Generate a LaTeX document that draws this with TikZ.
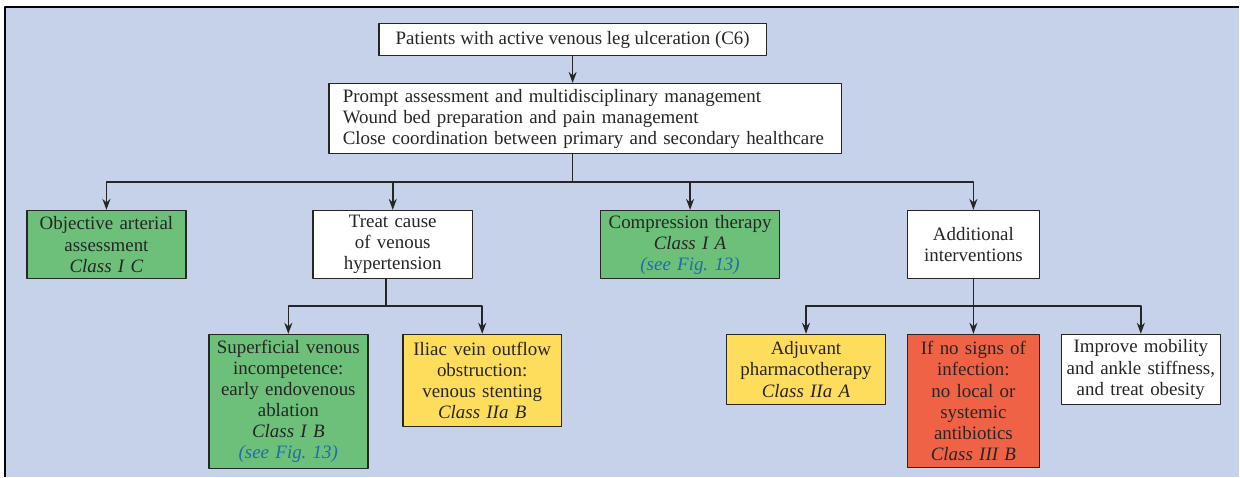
\documentclass[tikz,border=0pt]{standalone}
\usepackage{fontspec}
\setmainfont{Liberation Serif}
\usetikzlibrary{arrows.meta}
\definecolor{bgblue}{RGB}{198,210,234}
\definecolor{boxgreen}{RGB}{108,192,122}
\definecolor{boxyellow}{RGB}{255,221,92}
\definecolor{boxred}{RGB}{239,98,70}
\definecolor{figblue}{RGB}{31,108,172}
\newcommand{\cls}[1]{\textit{#1}}
\newcommand{\seefig}{\textcolor{figblue}{\textit{(see Fig.~13)}}}
\begin{document}
\begin{tikzpicture}[x=1bp, y=-1bp, line join=round, >={Stealth[length=11bp,width=8bp]},
	font=\fontsize{19}{21.2}\selectfont,
	box/.style={draw=black!85, line width=1.5bp, fill=white, align=center, inner xsep=3bp, inner ysep=4bp, anchor=north, text=black!85},
	lvl1/.style={box, minimum height=68bp},
	conn/.style={line width=1.5bp, draw=black!85}]
	\fill[bgblue](5,7)rectangle(1240,477);
	\draw[line width=1.5bp](5,477)--(5,7)--(1240,7);
	\useasboundingbox(0,0)rectangle(1240,477);
	% top of the chart
	\node[box, minimum width=388bp, minimum height=32bp](patients) at (573,23){Patients with active venous leg ulceration (C6)};
	\node[box, align=left, text width=485bp, inner xsep=14bp, minimum height=70bp](mgmt) at (585.5,83){Prompt assessment and multidisciplinary management\\Wound bed preparation and pain management\\Close coordination between primary and secondary healthcare};
	% first row
	\node[lvl1, fill=boxgreen, text width=153bp](arterial) at (106.5,210){Objective arterial\\assessment\\\cls{Class I C}};
	\node[lvl1, text width=154bp](cause) at (393,210){Treat cause\\of venous\\hypertension};
	\node[lvl1, fill=boxgreen, text width=173bp](compress) at (690.5,210){Compression therapy\\\cls{Class I A}\\\seefig};
	\node[lvl1, text width=126bp](addit) at (974,210){Additional\\interventions};
	% second row
	\node[box, fill=boxgreen, text width=153bp, minimum height=134bp](superf) at (288.5,334){Superficial venous\\incompetence:\\early endovenous\\ablation\\\cls{Class I B}\\\seefig};
	\node[box, fill=boxyellow, text width=153bp, minimum height=92bp](iliac) at (482.5,334){Iliac vein outflow\\obstruction:\\venous stenting\\\cls{Class IIa B}};
	\node[box, fill=boxyellow, text width=153bp, minimum height=70bp](adjuv) at (806.5,334){Adjuvant\\pharmacotherapy\\\cls{Class IIa A}};
	\node[box, fill=boxred, text width=126bp, minimum height=133bp](noabx) at (974,334){If no signs of\\infection:\\no local or\\systemic\\antibiotics\\\cls{Class III B}};
	\node[box, text width=153bp, minimum height=70bp](mobil) at (1141.5,334){Improve mobility\\and ankle stiffness,\\and treat obesity};
	% connectors
	\coordinate(split) at (573,182);
	\coordinate(causesplit) at (386,306);
	\coordinate(additsplit) at (974,306);
	\draw[conn,->](patients.south)--(patients.south |- mgmt.north);
	\draw[conn](patients.south |- mgmt.south)--(split);
	\foreach \n in {arterial,cause,compress,addit}\draw[conn,->](split)-|(\n.north);
	\draw[conn](causesplit |- cause.south)--(causesplit);
	\foreach \n in {superf,iliac}\draw[conn,->](causesplit)-|(\n.north);
	\draw[conn](addit.south)--(additsplit);
	\foreach \n in {adjuv,noabx,mobil}\draw[conn,->](additsplit)-|(\n.north);
\end{tikzpicture}
\end{document}
